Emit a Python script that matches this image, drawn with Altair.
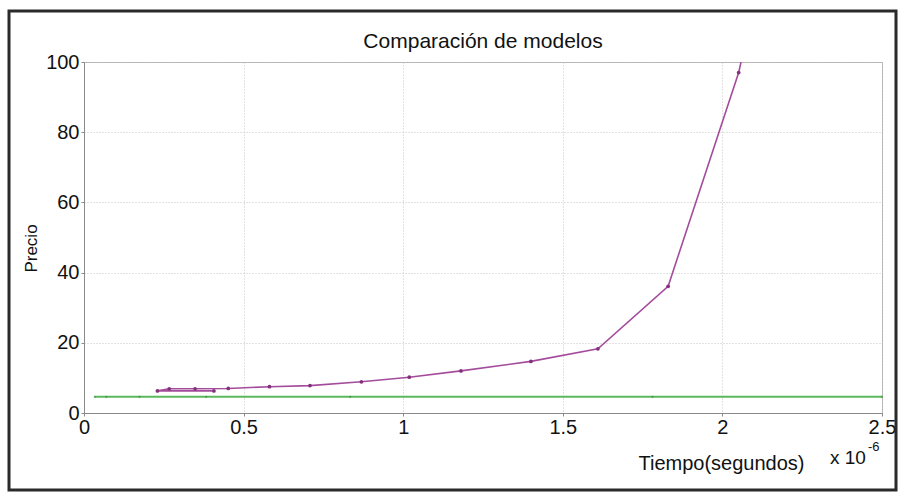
import altair as alt
import pandas as pd

# Tiempo in units of 1e-6 s
mag_x = [0.407, 0.230, 0.267, 0.348, 0.452, 0.581, 0.708, 0.869, 1.019, 1.181, 1.400, 1.610, 1.830, 2.051, 2.280]
mag_y = [6.3, 6.3, 6.9, 6.9, 7.0, 7.5, 7.8, 8.9, 10.2, 12.0, 14.7, 18.3, 36.1, 97.0, 190.0]
green_x = [0.034, 0.070, 0.174, 0.383, 0.834, 1.781, 2.500]
green_y = [4.6, 4.6, 4.6, 4.6, 4.6, 4.6, 4.6]
x_ticks = [0, 0.5, 1, 1.5, 2, 2.5]
y_ticks = [0, 20, 40, 60, 80, 100]

FONT = "Liberation Sans"
W, H = 798, 351
PL, PT = 84, 62

mag = pd.DataFrame({"t": mag_x, "p": mag_y, "i": list(range(len(mag_x)))})
grn = pd.DataFrame({"t": green_x, "p": green_y, "i": list(range(len(green_x)))})

xs = alt.Scale(domain=[0, 2.5], nice=False, zero=False)
ys = alt.Scale(domain=[0, 100], nice=False)

x_axis = alt.Axis(values=x_ticks, format="~g", title="Tiempo(segundos)",
                  titleX=637, titleY=56, titleBaseline="alphabetic", titleAlign="center",
                  titleFont=FONT, titleFontSize=20, titleFontWeight="normal", titleColor="#111",
                  labelFont=FONT, labelFontSize=20, labelColor="#111", labelPadding=1,
                  tickSize=3, tickColor="#8a8a8a", domainColor="#8a8a8a",
                  grid=True, gridColor="#c4c4c4", gridDash=[1, 2], labelFlush=False)
y_axis = alt.Axis(values=y_ticks, format="d", title="Precio",
                  titleX=-53, titleY=186, titleAngle=270, titleBaseline="middle", titleAlign="center",
                  titleFont=FONT, titleFontSize=17, titleFontWeight="normal", titleColor="#111",
                  labelFont=FONT, labelFontSize=20, labelColor="#111", labelPadding=2,
                  tickSize=3, tickColor="#8a8a8a", domainColor="#8a8a8a",
                  grid=True, gridColor="#c4c4c4", gridDash=[1, 2])

frame = alt.Chart(pd.DataFrame({"a": [0]})).mark_rect(
    filled=False, stroke="#2a2a2a", strokeWidth=3
).encode(x=alt.value(9 - PL), x2=alt.value(896 - PL), y=alt.value(11 - PT), y2=alt.value(490 - PT))

green_line = alt.Chart(grn).mark_line(color="#5cb85c", strokeWidth=2).encode(
    x=alt.X("t:Q", scale=xs, axis=x_axis),
    y=alt.Y("p:Q", scale=ys, axis=y_axis),
    order="i:Q",
)
green_pts = alt.Chart(grn).mark_point(filled=True, color="#3f9a3f", size=5, opacity=0.8).encode(
    x=alt.X("t:Q", scale=xs), y=alt.Y("p:Q", scale=ys)
)
mag_line = alt.Chart(mag).mark_line(color="#a44c9c", strokeWidth=1.6, clip=True).encode(
    x=alt.X("t:Q", scale=xs), y=alt.Y("p:Q", scale=ys), order="i:Q"
)
mag_pts = alt.Chart(mag).mark_point(filled=True, color="#84307c", size=14, opacity=1, clip=True).encode(
    x=alt.X("t:Q", scale=xs), y=alt.Y("p:Q", scale=ys)
)

title = alt.Chart(pd.DataFrame({"s": ["Comparación de modelos"]})).mark_text(
    font=FONT, fontSize=21, color="#111", align="center", baseline="alphabetic"
).encode(text="s:N", x=alt.value(483 - PL), y=alt.value(48 - PT))

mult = alt.Chart(pd.DataFrame({"s": ["x 10"]})).mark_text(
    font=FONT, fontSize=19, color="#111", align="left", baseline="alphabetic"
).encode(text="s:N", x=alt.value(830 - PL), y=alt.value(464 - PT))
expo = alt.Chart(pd.DataFrame({"s": ["-6"]})).mark_text(
    font=FONT, fontSize=13, color="#111", align="left", baseline="alphabetic"
).encode(text="s:N", x=alt.value(868 - PL), y=alt.value(451 - PT))

chart = alt.layer(frame, green_line, green_pts, mag_line, mag_pts, title, mult, expo).properties(
    width=W, height=H,
    autosize=alt.AutoSizeParams(type="none"),
    padding={"left": PL, "top": PT, "right": 905 - PL - W, "bottom": 498 - PT - H},
    background="white",
).configure_view(stroke="#b0b0b0", strokeWidth=1)

chart.save("out.html", embed_options={"renderer": "svg", "actions": False})
